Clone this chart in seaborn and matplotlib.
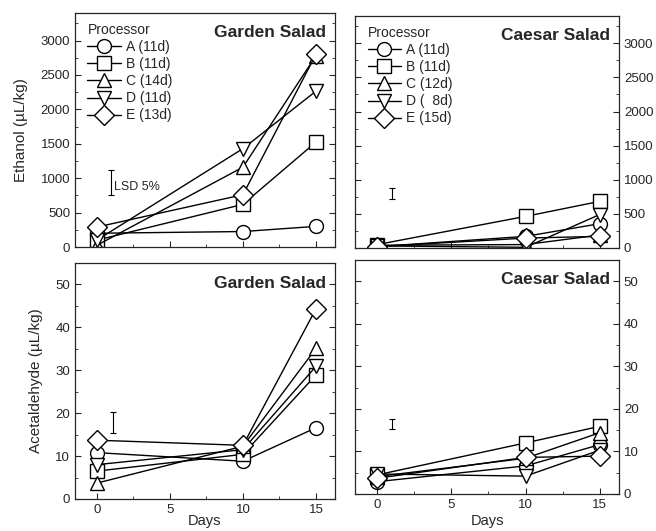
import numpy as np
import pandas as pd
import matplotlib
matplotlib.use("Agg")
import matplotlib.pyplot as plt
from matplotlib.ticker import MultipleLocator
import seaborn as sns

# storage days
days = [0, 10, 15]
processors = ["A", "B", "C", "D", "E"]

# legend labels (processor + shelf life)
garden_labels = ["A (11d)", "B (11d)", "C (14d)", "D (11d)", "E (13d)"]
caesar_labels = ["A (11d)", "B (11d)", "C (12d)", "D (  8d)", "E (15d)"]

# ethanol (uL/kg), one row per processor A..E
garden_ethanol = [[200, 225, 300],
                  [100, 620, 1525],
                  [25, 1160, 2780],
                  [100, 1430, 2265],
                  [290, 760, 2800]]
caesar_ethanol = [[20, 170, 356],
                  [50, 463, 683],
                  [40, 50, 190],
                  [30, 10, 490],
                  [20, 145, 170]]

# acetaldehyde (uL/kg)
garden_acetal = [[10.8, 8.8, 16.6],
                 [6.5, 10.4, 28.9],
                 [3.7, 12.3, 35.1],
                 [8.0, 11.5, 30.9],
                 [13.7, 12.5, 44.3]]
caesar_acetal = [[2.9, 6.6, 11.6],
                 [4.5, 12.0, 15.9],
                 [4.1, 8.4, 14.4],
                 [4.7, 4.2, 10.3],
                 [3.7, 8.6, 8.9]]

# LSD 5% bars: [x, low, high]
lsd_garden_eth = [1.0, 750, 1113]
lsd_caesar_eth = [1.0, 717, 878]
lsd_garden_ace = [1.1, 15.3, 20.3]
lsd_caesar_ace = [1.0, 15.2, 17.7]

markers = {"A": "o", "B": "s", "C": "^", "D": "v", "E": "D"}

sns.set_style("ticks")
plt.rcParams["font.family"] = ["Liberation Sans", "DejaVu Sans"]
plt.rcParams["xtick.direction"] = "in"
plt.rcParams["ytick.direction"] = "in"


def to_df(values):
    rows = []
    for p, vals in zip(processors, values):
        for d, v in zip(days, vals):
            rows.append({"day": d, "value": v, "proc": p})
    return pd.DataFrame(rows)


def panel(ax, values, title, lsd, ylim, major, labels=None, lsd_text=False):
    df = to_df(values)
    sns.lineplot(data=df, x="day", y="value", style="proc", style_order=processors,
                 markers=markers, dashes=False, color="black", lw=1,
                 markersize=10, markerfacecolor="white", markeredgecolor="black",
                 markeredgewidth=1, legend=False, ax=ax)
    if labels is not None:
        ax.legend(ax.lines[:5], labels, title="Processor", loc="upper left",
                  bbox_to_anchor=(0.0, 1.01), frameon=False, fontsize=10,
                  title_fontsize=10, alignment="left", handlelength=2.4,
                  labelspacing=0.22, handletextpad=0.4)
    x, lo, hi = lsd
    ax.errorbar([x], [(lo + hi) / 2], yerr=[(hi - lo) / 2], color="black",
                lw=0.8, capsize=2, capthick=0.8)
    if lsd_text:
        ax.text(x + 0.15, lo + 40, "LSD 5%", fontsize=9, va="bottom")
    ax.text(0.965, 0.915, title, transform=ax.transAxes, ha="right", va="center",
            fontsize=12.5, fontweight="bold")
    ax.set_xlim(-1.5, 16.3)
    ax.set_ylim(*ylim)
    ax.xaxis.set_major_locator(MultipleLocator(5))
    ax.xaxis.set_minor_locator(MultipleLocator(2.5))
    ax.yaxis.set_major_locator(MultipleLocator(major))
    ax.yaxis.set_minor_locator(MultipleLocator(major / 2))
    ax.tick_params(which="both", top=False, right=True, labelsize=9.5)
    ax.tick_params(which="major", length=4)
    ax.tick_params(which="minor", length=2.5)
    for s in ax.spines.values():
        s.set_linewidth(0.9)
    ax.set_xlabel("")
    ax.set_ylabel("")


fig = plt.figure(figsize=(6.56, 5.31), dpi=100)
ax1 = fig.add_axes([0.1143, 0.5348, 0.3963, 0.4407])
ax2 = fig.add_axes([0.5412, 0.5330, 0.4024, 0.4369])
ax3 = fig.add_axes([0.1143, 0.0603, 0.3963, 0.4444])
ax4 = fig.add_axes([0.5412, 0.0697, 0.4024, 0.4407])

panel(ax1, garden_ethanol, "Garden Salad", lsd_garden_eth, (0, 3400), 500,
      labels=garden_labels, lsd_text=True)
panel(ax2, caesar_ethanol, "Caesar Salad", lsd_caesar_eth, (0, 3400), 500,
      labels=caesar_labels)
panel(ax3, garden_acetal, "Garden Salad", lsd_garden_ace, (0, 55), 10)
panel(ax4, caesar_acetal, "Caesar Salad", lsd_caesar_ace, (0, 55), 10)

for ax in (ax1, ax2):
    ax.tick_params(labelbottom=False)
for ax in (ax2, ax4):
    ax.tick_params(labelleft=False, labelright=True)

ax1.set_ylabel("Ethanol (\u00b5L/kg)", fontsize=11, labelpad=9)
ax3.set_ylabel("Acetaldehyde (\u00b5L/kg)", fontsize=11, labelpad=9)
ax3.set_xlabel("Days", fontsize=10.5, labelpad=-1)
ax4.set_xlabel("Days", fontsize=10.5, labelpad=2)

fig.savefig("out.png", dpi=100)
